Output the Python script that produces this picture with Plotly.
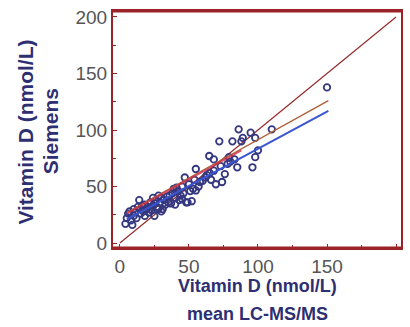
import plotly.graph_objects as go

# Data
lcms = [4, 5, 6, 7, 8, 9, 10, 10, 11, 12, 13, 14, 15, 15,
        16, 17, 18, 18, 19, 20, 21, 22, 22, 23, 24, 24, 25, 25,
        26, 27, 28, 28, 29, 30, 30, 31, 32, 33, 34, 35,
        36, 37, 38, 39, 40, 40, 41, 42, 43, 44, 45, 45,
        46, 47, 48, 49, 50, 51, 52, 53, 54, 55, 55,
        57, 58, 60, 62, 63, 64.7, 65, 66, 68, 68, 69.5,
        72, 73, 74, 76, 78, 79, 80, 81.5, 83, 85, 86, 88, 89, 94.7, 96, 98, 98, 100, 110, 150]
siemens = [17, 22, 26, 28, 20, 16, 24, 30, 27, 22, 32, 38, 26, 30,
           33, 28, 34, 24, 30, 32, 27, 36, 30, 29, 40, 33, 24, 35,
           38, 32, 42, 30, 36, 40, 28, 30, 38, 34, 41, 36,
           42, 35, 44, 48, 40, 34, 49, 46, 38, 42, 39, 50,
           44, 58, 36, 36, 52, 46, 37, 48, 56, 65.5, 46.5,
           50, 54, 55, 58, 60, 77, 62, 56, 74, 64, 52,
           90, 68, 54, 61, 70, 76, 72, 90, 74, 67, 100.6, 90, 93, 97.6, 67, 93, 76, 82, 100.6, 137.7]

identity_x = [0, 200]
identity_y = [0, 200]
orange_x = [5, 151]
orange_y = [27, 126]
blue_x = [5, 151]
blue_y = [21, 117]
red_x = [5, 88]
red_y = [26, 82]

tick_vals = [0, 50, 100, 150, 200]
tick_text = ["0", "50", "100", "150", "200"]

frame = "#9b2226"
navy = "#2d2f72"

fig = go.Figure()
fig.add_trace(go.Scatter(x=identity_x, y=identity_y, mode="lines",
                         line=dict(color="#952b2b", width=1.2), showlegend=False))
fig.add_trace(go.Scatter(x=lcms, y=siemens, mode="markers",
                         marker=dict(symbol="circle-open", size=6.5, color="#35377f",
                                     line=dict(width=1.8)), showlegend=False))
fig.add_trace(go.Scatter(x=orange_x, y=orange_y, mode="lines",
                         line=dict(color="#b0603a", width=1.4), showlegend=False))
fig.add_trace(go.Scatter(x=blue_x, y=blue_y, mode="lines",
                         line=dict(color="#3a55d0", width=2), showlegend=False))
fig.add_trace(go.Scatter(x=red_x, y=red_y, mode="lines",
                         line=dict(color="#d0304a", width=1.8), opacity=0.8, showlegend=False))

axis_common = dict(
    tickvals=tick_vals, ticktext=tick_text, ticks="inside", ticklen=4, tickcolor=frame,
    tickwidth=1, showgrid=False, zeroline=False, showline=True, linecolor=frame,
    linewidth=2, mirror=True,
    tickfont=dict(family="Liberation Sans, Arial", size=19, color="#555555"),
    minor=dict(ticks="inside", ticklen=3, tickcolor=frame, dtick=25, showgrid=False),
)
fig.update_xaxes(range=[-5, 203.6], **axis_common)
fig.update_yaxes(range=[-4.4, 205.3], **axis_common)

# thicker top/bottom frame edges
fig.add_shape(type="line", xref="paper", yref="paper", x0=0, x1=1, y0=1, y1=1,
              line=dict(color=frame, width=3))
fig.add_shape(type="line", xref="paper", yref="paper", x0=0, x1=1, y0=0, y1=0,
              line=dict(color=frame, width=3))

xtitle_font = dict(family="Liberation Sans, Arial", size=18, color=navy)
ytitle_font = dict(family="Liberation Sans, Arial", size=21, color=navy)
fig.add_annotation(text="<b>Vitamin D (nmol/L)</b>", xref="paper", yref="paper",
                   x=0.5, y=-0.160, showarrow=False, font=xtitle_font, yanchor="middle")
fig.add_annotation(text="<b>mean LC-MS/MS</b>", xref="paper", yref="paper",
                   x=0.5, y=-0.280, showarrow=False, font=xtitle_font, yanchor="middle")
fig.add_annotation(text="<b>Vitamin D (nmol/L)</b>", xref="paper", yref="paper",
                   x=-0.303, y=0.49, showarrow=False, font=ytitle_font, textangle=-90,
                   xanchor="center")
fig.add_annotation(text="<b>Siemens</b>", xref="paper", yref="paper",
                   x=-0.217, y=0.49, showarrow=False, font=ytitle_font, textangle=-90,
                   xanchor="center")

fig.update_layout(width=410, height=327, margin=dict(l=113, r=7, t=9, b=79),
                  paper_bgcolor="white", plot_bgcolor="white")
fig.write_html("out.html")
